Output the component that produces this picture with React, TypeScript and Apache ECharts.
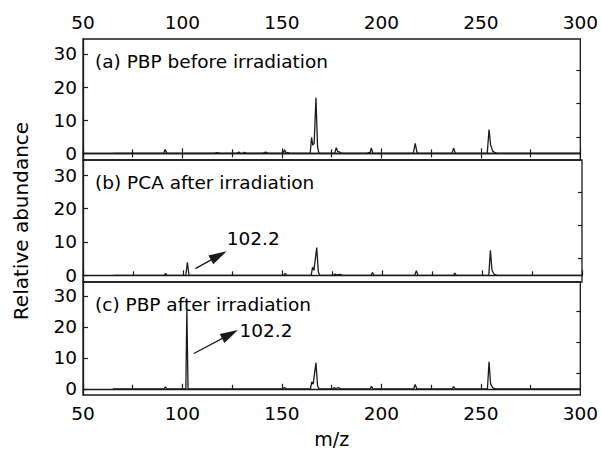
import React, { useEffect, useRef } from "react";
import * as echarts from "echarts";

// m/z values and relative abundances, panel (a) PBP before irradiation
const mzA = [65, 90.5, 91.3, 92.2, 116, 117.5, 119, 127.5, 128.3, 129, 130.5, 131.2, 132, 140.5, 141.8, 143, 150.5, 151.3, 152.2, 153, 154,
  164.2, 164.9, 165.5, 166.2, 167.1, 167.9, 168.6, 176.5, 177.3, 178, 179, 180, 193, 193.6, 194.3, 194.9, 195.8,
  216, 217, 217.8, 218.5, 235.5, 236.3, 237.2, 253.2, 254.1, 254.9, 256, 258, 300];
const abA = [0, 0, 1.2, 0, 0, 0.2, 0, 0, 0.4, 0, 0, 0.3, 0, 0, 0.4, 0, 0, 1.1, 0, 0.2, 0,
  0, 4.8, 2.5, 3, 16.8, 2, 0, 0, 1.7, 0.6, 0.4, 0, 0, 0.3, 0, 1.6, 0,
  0, 3, 0.5, 0, 0, 1.6, 0, 0, 7.2, 2.5, 0.6, 0, 0];

// panel (b) PCA after irradiation
const mzB = [65, 90.7, 91.4, 92.1, 101.5, 102.3, 103.1, 150.5, 151.3, 152.2, 164.3, 165, 165.7, 167.1, 167.9, 168.6,
  175.5, 176.3, 177, 179, 180, 194.3, 195, 195.8, 216.2, 217, 217.8, 235.6, 236.3, 237, 253.3, 254.1, 254.9, 256, 257.5, 300];
const abB = [0, 0, 0.6, 0, 0, 3.9, 0, 0, 0.6, 0, 0, 2.4, 1.5, 8.3, 1, 0,
  0, 0.4, 0.1, 0.3, 0, 0, 0.8, 0, 0, 1.4, 0, 0, 0.7, 0, 0, 7.5, 1.5, 0.3, 0, 0];

// panel (c) PBP after irradiation
const mzC = [65, 90.7, 91.4, 92.1, 101.7, 102.2, 102.8, 150.5, 151.3, 152.2, 164.3, 165, 165.7, 167.1, 167.9, 168.6,
  175.5, 176.3, 177, 178.5, 179.5, 194.3, 195, 195.8, 216.2, 217, 217.8, 235.6, 236.3, 237, 253.3, 254.1, 254.9, 256, 257.5, 300];
const abC = [0, 0, 0.6, 0, 0, 26, 0, 0, 0.4, 0, 0, 2.2, 1.5, 8.4, 1, 0,
  0, 0.4, 0.1, 0.4, 0, 0, 0.8, 0, 0, 1.4, 0, 0, 0.7, 0, 0, 8.7, 1.5, 0.3, 0, 0];

const panelLabels = ["(a) PBP before irradiation", "(b) PCA after irradiation", "(c) PBP after irradiation"];
const xTicksMin = 50;
const xTicksMax = 300;
const xTickStep = 50;
const yMin = -2;
const yMax = 34.5;
const yTicks = [0, 10, 20, 30];
const yMinorTicks = [5, 15, 25];

// annotation "102.2": arrow tail, arrow head centre, label anchor (data coords)
const annotText = "102.2";
const arrowB = [[106.3, 2.0], [118.0, 5.9]];
const labelB = [122, 11];
const arrowC = [[105.7, 11.4], [123.9, 17.6]];
const labelC = [128.7, 18.9];

const FONT = "DejaVu Sans";
const INK = "#1a1a1a";

export default function App() {
  const ref = useRef<HTMLDivElement>(null);
  useEffect(() => {
    document.body.style.margin = "0";
    const chart = echarts.init(ref.current!, null, { renderer: "svg" });
    const L = 83, R = 19;
    const grids = [
      { top: 39, height: 121 },
      { top: 160, height: 122 },
      { top: 282, height: 121 },
    ];
    const zip = (xs: number[], ys: number[]) => xs.map((x, i) => [x, ys[i]]);
    const datas = [zip(mzA, abA), zip(mzB, abB), zip(mzC, abC)];

    const xAxisBase = (gi: number, pos: string, labels: boolean) => ({
      type: "value",
      gridIndex: gi,
      position: pos,
      min: xTicksMin,
      max: xTicksMax,
      interval: xTickStep,
      axisLine: { show: true, lineStyle: { color: INK, width: 1.3 } },
      axisTick: { show: true, inside: true, length: 5, lineStyle: { color: INK, width: 1.2 } },
      minorTick: { show: true, splitNumber: 2, length: 4, lineStyle: { color: INK, width: 1.2 } },
      axisLabel: { show: labels, color: "#000", fontFamily: FONT, fontSize: 18.5, margin: pos === "top" ? 7 : 9 },
      splitLine: { show: false },
      minorSplitLine: { show: false },
    });

    const xAxes: any[] = [
      xAxisBase(0, "bottom", false),
      xAxisBase(1, "bottom", false),
      {
        ...xAxisBase(2, "bottom", true),
        name: "m/z",
        nameLocation: "middle",
        nameGap: 34,
        nameTextStyle: { color: "#000", fontFamily: FONT, fontSize: 19 },
      },
      xAxisBase(0, "top", true),
    ];

    const yAxes: any[] = [];
    for (let i = 0; i < 3; i++) {
      yAxes.push({
        type: "value",
        gridIndex: i,
        min: yMin,
        max: yMax,
        axisLine: { show: true, lineStyle: { color: INK, width: 1.3 } },
        axisTick: { show: true, inside: true, length: 5, customValues: yTicks, lineStyle: { color: INK, width: 1.2 } },
        axisLabel: { show: true, customValues: yTicks, color: "#000", fontFamily: FONT, fontSize: 18.5, margin: 6 },
        splitLine: { show: false },
      });
    }
    for (let i = 0; i < 3; i++) {
      yAxes.push({
        type: "value",
        gridIndex: i,
        min: yMin,
        max: yMax,
        axisLine: { show: false },
        axisTick: { show: true, inside: true, length: 4, customValues: yMinorTicks, lineStyle: { color: INK, width: 1.2 } },
        axisLabel: { show: false },
        splitLine: { show: false },
      });
    }

    const annot = (arrow: number[][], lab: number[]) => ({
      markLine: {
        silent: true,
        animation: false,
        label: { show: false },
        lineStyle: { color: INK, width: 1.3, type: "solid" },
        data: [[
          { coord: arrow[0], symbol: "none" },
          { coord: arrow[1], symbol: "triangle", symbolSize: [10, 18] },
        ]],
      },
      markPoint: {
        silent: true,
        animation: false,
        symbol: "circle",
        symbolSize: 0,
        label: { show: true, position: "right", distance: 0, formatter: annotText, color: "#000", fontFamily: FONT, fontSize: 18.5 },
        data: [{ coord: lab }],
      },
    });

    const series: any[] = datas.map((d, i) => ({
      type: "line",
      xAxisIndex: i,
      yAxisIndex: i,
      data: d,
      showSymbol: false,
      symbol: "none",
      lineStyle: { color: INK, width: 1.3 },
      ...(i === 1 ? annot(arrowB, labelB) : i === 2 ? annot(arrowC, labelC) : {}),
    }));

    const graphics: any[] = panelLabels.map((t, i) => ({
      type: "text",
      x: 95,
      y: grids[i].top + 22,
      style: { text: t, fontFamily: FONT, fontSize: 18.5, fill: "#000", textAlign: "left", textVerticalAlign: "middle" },
    }));
    graphics.push({
      type: "text",
      x: 21,
      y: 221,
      rotation: Math.PI / 2,
      style: { text: "Relative abundance", fontFamily: FONT, fontSize: 20, fill: "#000", textAlign: "center", textVerticalAlign: "middle" },
    });

    chart.setOption({
      animation: false,
      backgroundColor: "#fff",
      grid: grids.map((g) => ({
        left: L, right: R, top: g.top, height: g.height,
        show: true, borderColor: INK, borderWidth: 1.3, backgroundColor: "transparent",
      })),
      xAxis: xAxes,
      yAxis: yAxes,
      series,
      graphic: graphics,
    });
    return () => chart.dispose();
  }, []);
  return <div ref={ref} style={{ width: 601, height: 449 }} />;
}
